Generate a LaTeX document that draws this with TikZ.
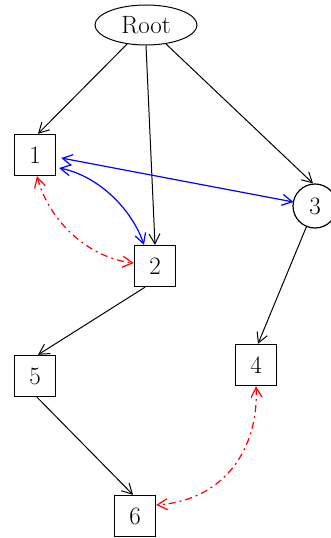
\documentclass[tikz,border=0pt]{standalone}
\usetikzlibrary{arrows.meta,shapes.geometric}
\begin{document}
\begin{tikzpicture}[x=1pt,y=-1pt,
  font=\fontsize{25}{28}\selectfont,
  box/.style={draw,line width=1.4pt,minimum width=41pt,minimum height=41pt,inner sep=0pt},
  edge/.style={line width=1pt,-{Straight Barb[length=10pt,width=11pt,line width=1pt]}},
  bi/.style={line width=1.2pt,{Straight Barb[length=10pt,width=11pt]}-{Straight Barb[length=10pt,width=11pt]}},
  blueedge/.style={bi,blue},
  rededge/.style={bi,red,dash pattern=on 7pt off 4pt on 2pt off 4pt}]
\clip (0,0) rectangle (331,538);
\useasboundingbox (0,0) rectangle (331,538);
\fill[white] (0,0) rectangle (331,538);
\node[draw,ellipse,line width=1pt,minimum width=102pt,minimum height=40pt,inner sep=0pt] (root) at (146,25) {Root};
\node[box] (n1) at (35,155) {1};
\node[box] (n2) at (155,266) {2};
\node[draw,circle,line width=1.2pt,minimum size=44pt,inner sep=0pt] (n3) at (315,206) {3};
\node[box] (n4) at (256,365) {4};
\node[box] (n5) at (35,376) {5};
\node[box] (n6) at (135,516) {6};
\draw[edge] (root) -- ([xshift=3pt]n1.north);
\draw[edge] (root.south) -- (n2.north);
\draw[edge] (root) -- ([xshift=-2pt]n3.north);
\draw[edge] (n3) -- ([xshift=2pt]n4.north);
\draw[edge] ([xshift=-10pt]n2.south) -- ([xshift=3pt]n5.north);
\draw[edge] ([xshift=2pt]n5.south) -- ([xshift=-2pt]n6.north);
\draw[blueedge] ([xshift=5pt,yshift=-3pt]n1.east) -- ([xshift=1pt,yshift=4pt]n3.west);
\draw[blueedge] ([xshift=3pt,yshift=-13pt]n1.east) .. controls +(40,8) and +(-12,-35) .. ([xshift=-11pt]n2.north);
\draw[rededge] ([xshift=2pt]n1.south) .. controls +(12,45) and +(-45,-5) .. ([yshift=3pt]n2.west);
\draw[rededge] ([xshift=0pt]n4.south) .. controls +(3,60) and +(70,-5) .. ([yshift=11pt]n6.east);
\end{tikzpicture}
\end{document}
